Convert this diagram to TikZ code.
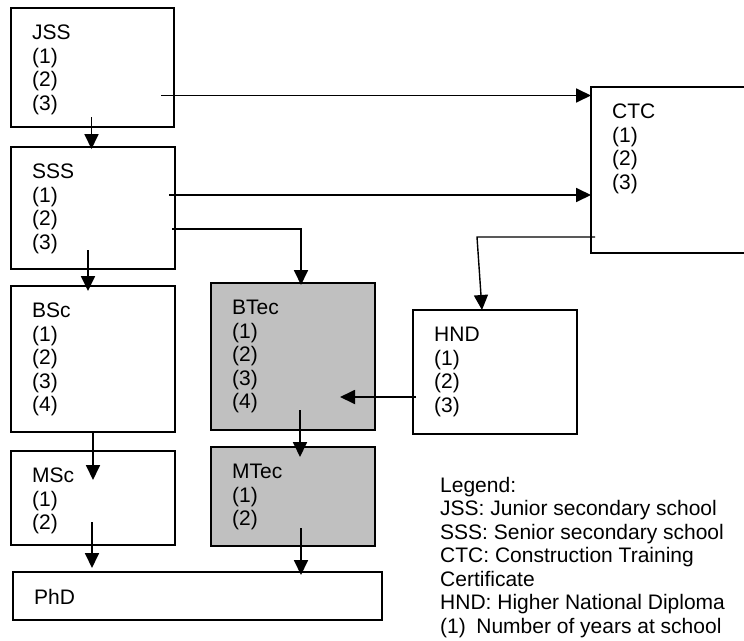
\documentclass[tikz,border=0pt]{standalone}
\usepackage{fontspec}
\setmainfont{Liberation Sans}
\usetikzlibrary{arrows.meta, positioning, calc}
\definecolor{silver}{RGB}{192,192,192}

\begin{document}
\begin{tikzpicture}[
    x=1pt, y=-1pt,
    >={Triangle[length=15pt, width=14pt]},
    every node/.style={font=\fontsize{21}{23.5}\selectfont},
    box/.style={rectangle, draw, line width=1.8pt, inner sep=0pt, outer sep=0pt},
    grey box/.style={box, fill=silver},
    txt/.style={anchor=north west, align=left, inner sep=0pt},
    link/.style={->, line width=1.8pt}
  ]
  \useasboundingbox (0,0) rectangle (744,640);

  % left column
  \node[box, minimum width=163pt, minimum height=119pt, anchor=north west] (jss) at (11,8) {};
  \node[box, minimum width=164pt, minimum height=122pt, below=20pt of jss.south west, anchor=north west] (sss) {};
  \node[box, minimum width=164pt, minimum height=146pt, below=17pt of sss.south west, anchor=north west] (bsc) {};
  \node[box, minimum width=164pt, minimum height=94pt, below=19pt of bsc.south west, anchor=north west] (msc) {};
  \node[box, minimum width=369pt, minimum height=48pt, below right=27pt and 2pt of msc.south west, anchor=north west] (phd) {};

  % technology route
  \node[grey box, minimum width=164pt, minimum height=147pt, anchor=north west] (btec) at (211,283) {};
  \node[grey box, minimum width=164pt, minimum height=99pt, below=17pt of btec.south west, anchor=north west] (mtec) {};
  \node[box, minimum width=170pt, minimum height=166pt, anchor=north west] (ctc) at (591,87) {};
  \node[box, minimum width=164pt, minimum height=124pt, anchor=north west] (hnd) at (413,310) {};

  % box texts
  \node[txt] (jsstxt) at ([shift={(21,17)}]jss.north west) {JSS\\(1)\\(2)\\(3)};
  \node[txt] (ssstxt) at ([shift={(21,17)}]sss.north west) {SSS\\(1)\\(2)\\(3)};
  \node[txt] (bsctxt) at ([shift={(21,17)}]bsc.north west) {BSc\\(1)\\(2)\\(3)\\(4)};
  \node[txt] (msctxt) at ([shift={(21,17)}]msc.north west) {MSc\\(1)\\(2)};
  \node[txt] (phdtxt) at ([shift={(21,17)}]phd.north west) {PhD};
  \node[txt] (btectxt) at ([shift={(21,17)}]btec.north west) {BTec\\(1)\\(2)\\(3)\\(4)};
  \node[txt] (mtectxt) at ([shift={(21,17)}]mtec.north west) {MTec\\(1)\\(2)};
  \node[txt] (ctctxt) at ([shift={(21,17)}]ctc.north west) {CTC\\(1)\\(2)\\(3)};
  \node[txt] (hndtxt) at ([shift={(21,17)}]hnd.north west) {HND\\(1)\\(2)\\(3)};

  \node[txt] (legend) at (440,477) {
    Legend:\\
    JSS: Junior secondary school\\
    SSS: Senior secondary school\\
    CTC: Construction Training\\
    Certificate\\
    HND: Higher National Diploma\\
    (1)\hspace{0.5em}Number of years at school
  };

  % connectors
  \draw[link] ($(jss.east)+(-13,28)$) coordinate (a) -- (a -| ctc.west);
  \draw[link] ($(jss.south)+(-1,-10)$) coordinate (b) -- ($(b |- sss.north)+(0,2)$);
  \draw[link] ($(sss.east)+(-6,-13)$) coordinate (c) -- (c -| ctc.west);
  \draw[link] ($(sss.east)+(-3,21)$) -| ($(btec.north)+(8,2)$);
  \draw[link] ($(sss.south)+(-5,-19)$) coordinate (d) -- ($(d |- bsc.north)+(0,5)$);
  \draw[link] (bsc.south) -- ($(bsc.south |- msc.north)+(0,29)$);
  \draw[link] ($(msc.south)+(-1,-23)$) coordinate (e) -- ($(e |- phd.north)+(0,-4)$);
  \draw[link] ($(btec.south)+(7,-20)$) coordinate (f) -- ($(f |- mtec.north)+(0,10)$);
  \draw[link] ($(mtec.south)+(8,-18)$) coordinate (g) -- ($(g |- phd.north)+(0,3)$);
  \draw[link] ($(hnd.west)+(3,25)$) coordinate (h) -- ($(h -| btec.east)+(-35,0)$);
  \draw[link, line width=1.4pt] ($(ctc.west)+(4,67)$) -- ++(-118,0) -- ($(hnd.north)+(-13,0)$);

\end{tikzpicture}
\end{document}
